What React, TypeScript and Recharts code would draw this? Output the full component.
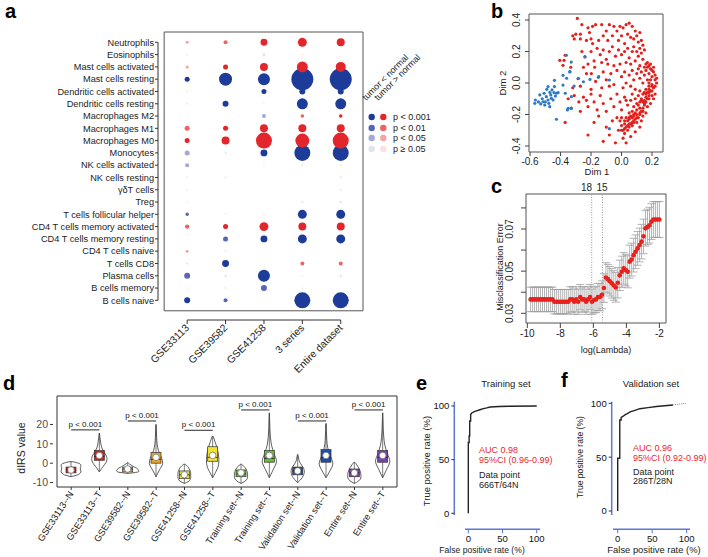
import React from "react";
import {
  Bar,
  BarChart,
  ErrorBar,
  Line,
  LineChart,
  ReferenceArea,
  ReferenceLine,
  Scatter,
  ScatterChart,
  XAxis,
  YAxis,
  ZAxis,
} from "recharts";

const FONT = '"Liberation Sans", Arial, sans-serif';

// ---------- a: immune cell bubbles ----------
const cellTypes = [
  "Neutrophils", "Eosinophils", "Mast cells activated", "Mast cells resting",
  "Dendritic cells activated", "Dendritic cells resting", "Macrophages M2",
  "Macrophages M1", "Macrophages M0", "Monocytes", "NK cells activated",
  "NK cells resting", "γδT cells", "Treg", "T cells follicular helper",
  "CD4 T cells memory activated", "CD4 T cells memory resting", "CD4 T cells naive",
  "T cells CD8", "Plasma cells", "B cells memory", "B cells naive",
];
const datasets = ["GSE33113", "GSE39582", "GSE41258", "3 series", "Entire dataset"];
// sign: + tumor > normal, - tumor < normal; 4 p<0.001, 3 p<0.01, 2 p<0.05, 1 p>=0.05
const pLevel = [
  [2, 3, 4, 4, 4], [1, 0, -1, 1, 0], [2, 4, 4, 4, 4], [-4, -4, -4, -4, -4],
  [1, 0, -4, -4, -4], [1, -4, 1, -4, -4], [0, 0, -2, 3, 4], [3, 4, 4, 4, 4],
  [4, 4, 4, 4, 4], [-2, -1, -4, -4, -4], [-2, 0, 1, 1, 1], [1, 1, 0, 0, -1],
  [1, 0, 0, 0, 1], [1, 0, 0, -1, -1], [-3, 1, 1, -4, -4], [3, 4, 4, 4, 4],
  [0, -3, -4, -4, -4], [2, 1, 0, 0, 0], [-1, -4, 0, 3, 3], [-3, -1, -4, -1, -1],
  [1, 1, -3, 1, 0], [-4, -3, 0, -4, -4],
];
const dotScore = [
  [2.3, 4, 12, 20, 16], [1, 0, 2.3, 0.6, 0], [2.3, 6.3, 16, 30, 25], [6.3, 42, 36, 121, 121],
  [1, 0, 6.3, 9, 9], [1, 9, 0.6, 30, 30], [0, 0, 4, 3.2, 3.2], [6.3, 6.3, 16, 16, 16],
  [6.3, 16, 64, 49, 64], [6.3, 1, 12, 64, 64], [4, 0, 0.6, 1, 1], [1, 1, 0, 0, 1],
  [0.6, 0, 0, 0, 1], [0.6, 0, 0, 1, 1.4], [3.2, 0.6, 1, 20, 20], [4.8, 6.3, 20, 16, 16],
  [0, 6.3, 12, 20, 20], [2.3, 1, 0, 0, 0], [1, 12, 0, 4, 4], [9, 1.4, 36, 0.6, 1.4],
  [0.6, 1, 9, 0.6, 0], [9, 4, 0, 64, 64],
];
const levelColors: Record<number, string> = {
  4: "#e3262b", 3: "#ec6466", 2: "#f4a3a4", 1: "#fbe1e1",
  [-1]: "#e1e3f2", [-2]: "#a2a8d9", [-3]: "#5866b8", [-4]: "#1d3c99",
};
const levelOrder = [-1, -2, -3, -4, 1, 2, 3, 4];
const legendRows = ["p < 0.001", "p < 0.01", "p < 0.05", "p ≥ 0.05"];

// ---------- b: MDS scatter ----------
const normalPoints: [number, number][] = [
  [-0.569, -0.129], [-0.565, -0.108], [-0.536, -0.076], [-0.53, -0.133], [-0.515, -0.119],
  [-0.504, -0.14], [-0.508, -0.065], [-0.493, -0.087], [-0.482, -0.108], [-0.477, -0.129],
  [-0.471, -0.15], [-0.482, -0.023], [-0.464, -0.076], [-0.46, -0.097], [-0.456, -0.044],
  [-0.449, -0.108], [-0.443, -0.061], [-0.44, -0.023], [-0.434, -0.083], [-0.427, -0.065],
  [-0.416, -0.061], [-0.427, -0.23], [-0.384, -0.013], [-0.369, -0.065], [-0.355, -0.171],
  [-0.35, -0.161], [-0.329, -0.161], [-0.329, -0.087], [-0.311, -0.019], [-0.08, -0.29],
  [-0.24, 0.167], [-0.338, 0.072], [-0.36, 0.03], [-0.283, 0.03], [-0.25, 0.008],
  [-0.207, 0.023], [-0.152, 0.036], [-0.08, 0.019], [-0.362, 0.176], [-0.33, 0.133],
  [-0.34, 0.07], [-0.384, 0.049], [-0.44, 0.017], [-0.52, -0.1], [-0.5, -0.12],
  [-0.47, -0.06], [-0.545, -0.12], [-0.49, -0.04],
];
const tumorPoints: [number, number][] = [
  [-0.29, 0.41], [-0.26, 0.37], [-0.32, 0.3], [-0.3, 0.31], [-0.27, 0.31], [-0.22, 0.35],
  [-0.21, 0.32], [-0.19, 0.36], [-0.17, 0.37], [-0.23, 0.27], [-0.2, 0.28], [-0.19, 0.25],
  [-0.27, 0.28], [-0.31, 0.28], [-0.13, 0.37], [-0.1, 0.33], [-0.08, 0.37], [-0.05, 0.36],
  [-0.03, 0.33], [-0.01, 0.36], [0.01, 0.35], [0.03, 0.37], [0.05, 0.38], [0.07, 0.36],
  [0.09, 0.33], [0.1, 0.3], [0.12, 0.32], [-0.12, 0.3], [-0.06, 0.3], [0.0, 0.3],
  [0.04, 0.31], [0.06, 0.29], [0.08, 0.28], [0.11, 0.26], [-0.15, 0.27], [-0.09, 0.27],
  [-0.02, 0.27], [0.02, 0.25], [0.13, 0.27], [0.14, 0.24],
  [-0.26, 0.2], [-0.24, 0.165], [-0.37, 0.176], [-0.405, 0.144], [-0.377, 0.144],
  [-0.384, 0.112], [-0.333, 0.1], [-0.25, 0.1], [-0.176, 0.1], [-0.2, 0.2], [-0.16, 0.22],
  [-0.14, 0.18], [-0.12, 0.21], [-0.1, 0.15], [-0.08, 0.2], [-0.06, 0.23], [-0.04, 0.17],
  [-0.02, 0.21], [0.0, 0.18], [0.02, 0.2], [0.04, 0.22], [0.05, 0.16], [0.07, 0.2],
  [0.08, 0.23], [0.1, 0.2], [0.11, 0.17], [0.12, 0.22], [0.13, 0.19], [0.14, 0.15],
  [0.15, 0.21], [0.09, 0.14], [0.06, 0.12], [0.03, 0.13], [-0.01, 0.12], [-0.05, 0.11],
  [-0.09, 0.12], [-0.13, 0.13], [-0.18, 0.14], [-0.22, 0.12], [0.16, 0.12], [0.17, 0.13],
  [0.18, 0.11], [0.12, 0.11], [0.15, 0.1],
  [-0.285, 0.027], [-0.23, 0.06], [-0.198, 0.06], [-0.15, 0.04], [-0.12, 0.07], [-0.1, 0.02],
  [-0.07, 0.06], [-0.05, -0.01], [-0.03, 0.08], [0.0, 0.04], [0.02, 0.07], [0.03, 0.0],
  [0.05, 0.05], [0.07, 0.08], [0.08, 0.02], [0.1, 0.06], [0.11, 0.09], [0.12, 0.03],
  [0.13, 0.07], [0.14, 0.0], [0.15, 0.05], [0.16, 0.08], [0.17, 0.02], [0.18, 0.06],
  [0.19, 0.09], [0.2, 0.04], [0.21, 0.07], [0.22, 0.02], [0.23, 0.0], [0.2, -0.01],
  [0.19, 0.02], [0.21, -0.03], [0.18, -0.02], [0.16, -0.04], [0.22, 0.05], [0.2, 0.08],
  [0.17, 0.1], [0.19, 0.12], [0.21, 0.1], [0.18, 0.0], [0.23, 0.03], [0.22, -0.02],
  [-0.32, -0.03], [-0.27, -0.02], [-0.2, -0.04], [-0.17, 0.01], [-0.13, -0.03], [-0.08, -0.02],
  [0.01, -0.03], [0.06, -0.02], [0.09, -0.04], [0.12, -0.05], [0.15, -0.06],
  [-0.35, -0.1], [-0.31, -0.08], [-0.28, -0.12], [-0.25, -0.09], [-0.22, -0.15], [-0.2, -0.07],
  [-0.18, -0.12], [-0.16, -0.17], [-0.14, -0.08], [-0.12, -0.13], [-0.1, -0.18], [-0.07, -0.1],
  [-0.05, -0.15], [-0.03, -0.07], [-0.01, -0.12], [0.0, -0.17], [0.02, -0.09], [0.04, -0.14],
  [0.05, -0.19], [0.06, -0.11], [0.07, -0.07], [0.08, -0.15], [0.09, -0.1], [0.1, -0.2],
  [0.1, -0.13], [0.11, -0.08], [0.12, -0.16], [0.13, -0.11], [0.14, -0.07], [0.14, -0.18],
  [0.15, -0.13], [0.16, -0.09], [0.17, -0.15], [0.18, -0.1], [0.18, -0.06], [0.19, -0.13],
  [0.2, -0.08], [0.2, -0.05], [0.21, -0.1], [0.22, -0.07], [0.16, -0.19], [0.12, -0.19],
  [0.03, -0.11], [-0.33, -0.16], [-0.27, -0.18], [-0.23, -0.11],
  [-0.37, -0.25], [-0.22, -0.33], [-0.18, -0.25], [-0.15, -0.21], [-0.12, -0.37], [-0.1, -0.28],
  [-0.08, -0.33], [-0.06, -0.24], [-0.04, -0.38], [-0.02, -0.3], [0.0, -0.22], [0.01, -0.35],
  [0.02, -0.26], [0.03, -0.38], [0.04, -0.3], [0.05, -0.23], [0.06, -0.34], [0.07, -0.27],
  [0.08, -0.21], [0.09, -0.31], [0.1, -0.25], [0.11, -0.22], [0.12, -0.28], [0.13, -0.24],
  [0.14, -0.21], [0.0, -0.27], [-0.01, -0.24], [0.02, -0.32], [0.05, -0.28], [0.07, -0.22],
  [-0.03, -0.22], [0.08, -0.25],
  [0.2, -0.02], [0.19, -0.05], [0.18, -0.08], [0.17, -0.1], [0.16, -0.12], [0.15, -0.14],
  [0.14, -0.16], [0.13, -0.18], [0.12, -0.2], [0.1, -0.22], [0.09, -0.23], [0.08, -0.24],
  [0.07, -0.25], [0.06, -0.26], [0.05, -0.26], [0.04, -0.27], [0.03, -0.28], [0.02, -0.29],
  [0.01, -0.3], [0.0, -0.3], [0.11, -0.14], [0.12, -0.12], [0.13, -0.1], [0.14, -0.12],
  [0.15, -0.11], [0.16, -0.07], [0.17, -0.06], [0.18, -0.04], [0.1, -0.17], [0.09, -0.19],
  [0.08, -0.2], [0.07, -0.18], [0.06, -0.21], [0.05, -0.22], [0.04, -0.24], [0.03, -0.22],
  [0.02, -0.24],
];

// ---------- c: cross-validation curve ----------
const cvLogLambda = [
  -9.8, -9.68, -9.56, -9.44, -9.32, -9.2, -9.08, -8.96, -8.84, -8.72, -8.6, -8.48,
  -8.36, -8.24, -8.12, -8.0, -7.88, -7.76, -7.64, -7.52,
  -7.4, -7.28, -7.16, -7.04, -6.92, -6.8, -6.68, -6.56, -6.44, -6.32,
  -6.2, -6.08, -5.96, -5.84, -5.72, -5.6, -5.48, -5.36, -5.24, -5.12,
  -5.0, -4.88, -4.76, -4.64, -4.52, -4.4, -4.28, -4.16, -4.04, -3.92,
  -3.8, -3.68, -3.56, -3.44, -3.32, -3.2, -3.08, -2.96, -2.84, -2.72,
  -2.6, -2.48, -2.36, -2.24, -2.12, -2.0,
];
const cvError = [
  0.0366, 0.0366, 0.0366, 0.0366, 0.0366, 0.0366, 0.0366, 0.0366, 0.0366, 0.0366, 0.0366, 0.0366,
  0.0355, 0.0355, 0.0355, 0.0355, 0.0355, 0.0355, 0.0355, 0.0355,
  0.0366, 0.0366, 0.0355, 0.0366, 0.0355, 0.0377, 0.0366, 0.0366, 0.0355, 0.0366,
  0.0377, 0.0355, 0.0363, 0.0366, 0.0377, 0.0377, 0.0388, 0.042, 0.047, 0.0462,
  0.0452, 0.0442, 0.0432, 0.0423, 0.0445, 0.048, 0.0497, 0.0513, 0.0505, 0.0497,
  0.0545, 0.0555, 0.0576, 0.0592, 0.0608, 0.0624, 0.064, 0.0665, 0.0703, 0.071,
  0.0718, 0.0735, 0.0745, 0.0745, 0.0745, 0.0745,
];
const cvSE = [
  0.0058, 0.0058, 0.0058, 0.0058, 0.0058, 0.0058, 0.0058, 0.0058, 0.0058, 0.0058, 0.0058, 0.0058,
  0.0058, 0.0058, 0.0058, 0.0058, 0.0058, 0.0058, 0.0058, 0.0058,
  0.006, 0.006, 0.006, 0.006, 0.006, 0.006, 0.006, 0.006, 0.006, 0.006,
  0.006, 0.006, 0.0062, 0.0062, 0.0064, 0.0065, 0.0066, 0.0068, 0.007, 0.007,
  0.007, 0.007, 0.007, 0.007, 0.0072, 0.0072, 0.0074, 0.0075, 0.0075, 0.0076,
  0.0078, 0.0078, 0.008, 0.008, 0.008, 0.008, 0.0082, 0.0082, 0.0084, 0.0084,
  0.0085, 0.0085, 0.0085, 0.0085, 0.0085, 0.0085,
];
const lambdaMarks = [-6.1, -5.45];
const lambdaMarkLabels = ["18", "15"];

// ---------- d: dIRS violins ----------
const groupNames = [
  "GSE33113--N", "GSE33113--T", "GSE39582--N", "GSE39582--T", "GSE41258--N", "GSE41258--T",
  "Training set--N", "Training set--T", "Validation set--N", "Validation set--T", "Entire set--N", "Entire set--T",
];
const groupColors = [
  "#e3191c", "#e3191c", "#f2a31c", "#f2a31c", "#f3e42c", "#f3e42c",
  "#68bd2f", "#68bd2f", "#1f4ea3", "#1f4ea3", "#7b3fb0", "#7b3fb0",
];
const violinLow = [-7, -4.5, -5.3, -7, -10.5, -7.5, -10.5, -7.5, -10, -7.5, -10.5, -7.5];
const violinHigh = [0.8, 15.5, 0.3, 20, -0.5, 14, -0.5, 26, 4.5, 20.5, 0.5, 26];
const boxQ1 = [-5, 1.5, -4.5, 0, -8, 1, -7, 0.5, -6, 0.5, -7, 0.5];
const boxMedian = [-3.5, 3.5, -3, 2, -6, 3, -5.5, 2.5, -4, 3, -5, 3];
const boxQ3 = [-2, 6.5, -2, 5.5, -4, 8.5, -3.5, 6.5, -2, 7, -3, 6.5];
const groupMean = [-3.5, 4, -3, 3, -6, 4, -5, 4, -4, 4, -5, 4];
const violinDensity = [
  [0, 0.6, 0.85, 0.9, 0.85, 0.85, 0.9, 0.75, 0],
  [0, 0.3, 0.62, 0.68, 0.45, 0.22, 0.12, 0.06, 0],
  [0, 0.9, 1, 0.95, 0.8, 0.55, 0.35, 0.15, 0],
  [0, 0.3, 0.6, 0.48, 0.22, 0.1, 0.06, 0.03, 0],
  [0, 0.42, 0.56, 0.58, 0.58, 0.55, 0.45, 0.3, 0],
  [0, 0.25, 0.48, 0.56, 0.55, 0.48, 0.36, 0.2, 0],
  [0, 0.38, 0.56, 0.6, 0.6, 0.55, 0.45, 0.28, 0],
  [0, 0.35, 0.65, 0.42, 0.2, 0.1, 0.05, 0.03, 0],
  [0, 0.32, 0.52, 0.6, 0.55, 0.35, 0.16, 0.08, 0],
  [0, 0.35, 0.62, 0.45, 0.22, 0.1, 0.06, 0.03, 0],
  [0, 0.4, 0.58, 0.6, 0.58, 0.5, 0.38, 0.22, 0],
  [0, 0.35, 0.65, 0.42, 0.2, 0.1, 0.05, 0.03, 0],
];
const sigPairs: [string, string][] = [
  ["GSE33113--N", "GSE33113--T"], ["GSE39582--N", "GSE39582--T"], ["GSE41258--N", "GSE41258--T"],
  ["Training set--N", "Training set--T"], ["Validation set--N", "Validation set--T"], ["Entire set--N", "Entire set--T"],
];
const sigHeight = [17.2, 21.8, 17, 27.5, 21.8, 27.5];

// ---------- e, f: ROC ----------
const trainFpr = [0, 0, 1.2, 1.2, 2, 2, 3.4, 3.4, 5, 8, 12, 17, 22, 27, 32, 45, 60, 100];
const trainTpr = [0, 66, 66, 72, 72, 86, 86, 92, 93.5, 94.5, 95.5, 96.5, 97.5, 98.2, 99, 99.5, 99.8, 100];
const validFpr = [0, 0, 3, 3, 5, 5, 8, 11, 14, 18, 25, 32, 44, 56, 68, 80];
const validTpr = [0, 49, 49, 84.5, 84.5, 87, 88, 89.5, 90.5, 92, 93.5, 95, 96, 97, 97.8, 98.5];
const validTailFpr = [80, 90, 100];
const validTailTpr = [98.5, 99.3, 100];

// ---------- derived tables ----------
const bubbles = pLevel.flatMap((row, r) =>
  row.map((lvl, c) => ({ row: r, col: c, lvl, z: dotScore[r][c] })).filter((b) => b.z > 0),
);
const bubbleGroups = levelOrder.map((lvl) => ({ lvl, pts: bubbles.filter((b) => b.lvl === lvl) }));
const tumorData = tumorPoints.map(([x, y]) => ({ x, y }));
const normalData = normalPoints.map(([x, y]) => ({ x, y }));
const cvData = cvLogLambda.map((x, i) => ({ x, y: cvError[i], se: cvSE[i] }));
const violinData = groupNames.map((name, i) => ({
  name,
  span: [violinLow[i], violinHigh[i]],
  q1: boxQ1[i],
  med: boxMedian[i],
  q3: boxQ3[i],
  mean: groupMean[i],
  dens: violinDensity[i],
  color: groupColors[i],
}));
const trainCurve = trainFpr.map((fpr, i) => ({ fpr, tpr: trainTpr[i] }));
const validCurve = validFpr.map((fpr, i) => ({ fpr, tpr: validTpr[i] }));
const validTail = validTailFpr.map((fpr, i) => ({ fpr, tpr: validTailTpr[i] }));

const AngledTick = (props: any) => {
  const { x, y, payload, angle, fontSize, fill, labels } = props;
  const text = labels ? labels[payload.value] : payload.value;
  return (
    <g transform={`translate(${x},${y})`}>
      <text
        x={0}
        y={0}
        dy={fontSize * 0.35}
        textAnchor="end"
        transform={`rotate(${angle})`}
        fontSize={fontSize}
        fill={fill}
      >
        {text}
      </text>
    </g>
  );
};

const RowTick = (props: any) => {
  const { x, y, payload } = props;
  return (
    <text x={x} y={y} dy={3.2} textAnchor="end" fontSize={9.2} fill="#222">
      {cellTypes[payload.value]}
    </text>
  );
};

const VTick = (props: any) => {
  const { x, y, payload, fontSize, show, digits } = props;
  const visible = !show || show.some((s: number) => Math.abs(s - payload.value) < 1e-6);
  return (
    <g transform={`translate(${x},${y}) rotate(-90)`}>
      <text x={0} y={0} textAnchor="middle" fontSize={fontSize} fill="#222">
        {visible ? Number(payload.value).toFixed(digits) : ""}
      </text>
    </g>
  );
};

const dot = (color: string, r: number) => (p: any) => <circle cx={p.cx} cy={p.cy} r={r} fill={color} />;

function smoothPath(pts: [number, number][]) {
  let d = `M${pts[0][0]},${pts[0][1]}`;
  for (let i = 0; i < pts.length - 1; i++) {
    const p0 = pts[i - 1] || pts[i];
    const p1 = pts[i];
    const p2 = pts[i + 1];
    const p3 = pts[i + 2] || p2;
    const c1x = p1[0] + (p2[0] - p0[0]) / 6;
    const c1y = p1[1] + (p2[1] - p0[1]) / 6;
    const c2x = p2[0] - (p3[0] - p1[0]) / 6;
    const c2y = p2[1] - (p3[1] - p1[1]) / 6;
    d += ` C${c1x},${c1y} ${c2x},${c2y} ${p2[0]},${p2[1]}`;
  }
  return d + " Z";
}

const ViolinShape = (props: any) => {
  const { x, y, width, height, payload } = props;
  const cx = x + width / 2;
  const top = Math.min(y, y + height);
  const h = Math.abs(height);
  const [lo, hi] = payload.span;
  const py = (v: number) => top + ((hi - v) / (hi - lo)) * h;
  const n = payload.dens.length;
  const right: [number, number][] = payload.dens.map((d: number, i: number) => [
    cx + d * 11,
    py(lo + ((hi - lo) * i) / (n - 1)),
  ]);
  const left: [number, number][] = right.map(([px, yy]) => [2 * cx - px, yy] as [number, number]).reverse();
  const outline = smoothPath([...right, ...left.slice(1, -1)]);
  return (
    <g>
      <path d={outline} fill="#fff" stroke="#333" strokeWidth={0.8} />
      <line x1={cx} x2={cx} y1={py(lo)} y2={py(hi)} stroke="#444" strokeWidth={0.7} />
      <rect x={cx - 5} y={py(payload.q3)} width={10} height={py(payload.q1) - py(payload.q3)} fill={payload.color} stroke="#333" strokeWidth={0.7} />
      <line x1={cx - 5} x2={cx + 5} y1={py(payload.med)} y2={py(payload.med)} stroke="#222" strokeWidth={0.9} />
      <circle cx={cx} cy={py(payload.mean)} r={3.3} fill="#fff" stroke="#666" strokeWidth={0.7} />
    </g>
  );
};

function PanelA() {
  return (
    <ScatterChart width={370} height={380} margin={{ top: 32, right: 7, bottom: 0, left: 8 }}>
      <XAxis
        type="number"
        dataKey="col"
        domain={[-0.76, 4.58]}
        allowDataOverflow
        ticks={datasets.map((_, i) => i)}
        interval={0}
        height={60}
        axisLine={false}
        tickSize={4}
        tickLine={{ stroke: "#333" }}
        tick={<AngledTick angle={-45} fontSize={10.3} fill="#222" labels={datasets} />}
      />
      <YAxis
        type="number"
        dataKey="row"
        reversed
        domain={[-0.84, 22.6]}
        allowDataOverflow
        ticks={cellTypes.map((_, i) => i)}
        interval={0}
        width={150}
        axisLine={false}
        tickSize={3}
        tickMargin={1}
        tickLine={{ stroke: "#333" }}
        tick={<RowTick />}
      />
      <ZAxis type="number" dataKey="z" domain={[0, 121]} range={[0, 380]} />
      <ReferenceArea x1={-0.6} x2={4.58} y1={-0.84} y2={21.85} fill="none" stroke="#555" ifOverflow="visible" />
      <ReferenceLine segment={[{ x: -0.76, y: 0 }, { x: -0.76, y: 21 }]} stroke="#333" ifOverflow="visible" />
      <ReferenceLine segment={[{ x: 0, y: 22.6 }, { x: 4, y: 22.6 }]} stroke="#333" ifOverflow="visible" />
      {bubbleGroups.map((g) => (
        <Scatter key={g.lvl} data={g.pts} fill={levelColors[g.lvl]} isAnimationActive={false} />
      ))}
    </ScatterChart>
  );
}

function PanelB() {
  return (
    <ScatterChart width={238} height={180} margin={{ top: 14, right: 45, bottom: 0, left: 0 }}>
      <XAxis
        type="number"
        dataKey="x"
        domain={[-0.607, 0.272]}
        allowDataOverflow
        ticks={[-0.6, -0.4, -0.2, 0, 0.2]}
        interval={0}
        tickFormatter={(v: number) => v.toFixed(1)}
        height={28}
        axisLine={false}
        tickSize={4}
        tickLine={{ stroke: "#444" }}
        tick={{ fontSize: 10, fill: "#222" }}
      />
      <YAxis
        type="number"
        dataKey="y"
        domain={[-0.438, 0.438]}
        allowDataOverflow
        ticks={[-0.4, -0.2, 0, 0.2, 0.4]}
        interval={0}
        width={59}
        axisLine={false}
        tickSize={4}
        tickMargin={5}
        tickLine={{ stroke: "#444" }}
        tick={<VTick fontSize={10} digits={1} />}
      />
      <ReferenceArea x1={-0.607} x2={0.272} y1={-0.438} y2={0.438} fill="none" stroke="#555" ifOverflow="visible" />
      <Scatter data={tumorData} shape={dot("#e3201b", 1.6)} isAnimationActive={false} />
      <Scatter data={normalData} shape={dot("#2c7bc6", 1.6)} isAnimationActive={false} />
    </ScatterChart>
  );
}

function PanelC() {
  return (
    <ScatterChart width={238} height={178} margin={{ top: 14, right: 42, bottom: 0, left: 0 }}>
      <XAxis
        type="number"
        dataKey="x"
        domain={[-10.08, -1.6]}
        allowDataOverflow
        ticks={[-10, -8, -6, -4, -2]}
        interval={0}
        height={35}
        axisLine={false}
        tickSize={5}
        tickLine={{ stroke: "#444" }}
        tick={{ fontSize: 10, fill: "#222" }}
      />
      <YAxis
        type="number"
        dataKey="y"
        domain={[0.0254, 0.0866]}
        allowDataOverflow
        ticks={[0.03, 0.04, 0.05, 0.06, 0.07, 0.08]}
        interval={0}
        width={56}
        axisLine={false}
        tickSize={5}
        tickMargin={8}
        tickLine={{ stroke: "#444" }}
        tick={<VTick fontSize={10} digits={2} show={[0.03, 0.05, 0.07]} />}
      />
      <ReferenceArea x1={-10.08} x2={-1.6} y1={0.0254} y2={0.0866} fill="none" stroke="#555" ifOverflow="visible" />
      {lambdaMarks.map((m) => (
        <ReferenceLine key={m} x={m} stroke="#999" strokeDasharray="1 1.5" />
      ))}
      <Scatter data={cvData} shape={dot("#e8211d", 2.3)} isAnimationActive={false}>
        <ErrorBar dataKey="se" direction="y" width={4} stroke="#a0a0a0" strokeWidth={0.8} />
      </Scatter>
    </ScatterChart>
  );
}

function PanelD() {
  return (
    <BarChart width={420} height={172} data={violinData} margin={{ top: 11, right: 20, bottom: 0, left: 0 }}>
      <XAxis
        dataKey="name"
        interval={0}
        padding={{ left: 4, right: 3 }}
        height={70}
        axisLine={false}
        tickSize={3}
        tickLine={{ stroke: "#333" }}
        tick={<AngledTick angle={-57} fontSize={9.3} fill="#222" />}
      />
      <YAxis
        domain={[-12.3, 34.7]}
        allowDataOverflow
        ticks={[-10, 0, 10, 20]}
        interval={0}
        width={53}
        axisLine={false}
        tickSize={3}
        tickLine={{ stroke: "#333" }}
        tick={{ fontSize: 10.5, fill: "#4d4d4d" }}
      />
      <ReferenceArea y1={-12.3} y2={34.7} fill="none" stroke="#333" ifOverflow="visible" />
      <Bar dataKey="span" barSize={24} shape={<ViolinShape />} isAnimationActive={false} />
      {sigPairs.map(([from, to], i) => (
        <ReferenceLine
          key={from}
          segment={[{ x: from, y: sigHeight[i] }, { x: to, y: sigHeight[i] }]}
          stroke="#111"
          strokeWidth={0.9}
          ifOverflow="visible"
          label={{ value: "p < 0.001", position: "top", fontSize: 8, fill: "#111", offset: 3 }}
        />
      ))}
    </BarChart>
  );
}

const ROC_BLUE = "#5b78d3";

function RocPanel(props: {
  curve: { fpr: number; tpr: number }[];
  tail?: { fpr: number; tpr: number }[];
  xDomain: [number, number];
  yDomain: [number, number];
  yWidth: number;
  xLineStart: number;
  yLineStart: number;
}) {
  const { curve, tail, xDomain, yDomain, yWidth, xLineStart, yLineStart } = props;
  return (
    <LineChart width={130} height={187} margin={{ top: 31.7, right: 10, bottom: 0, left: 0 }}>
      <XAxis
        type="number"
        dataKey="fpr"
        domain={xDomain}
        allowDataOverflow
        ticks={[0, 50, 100]}
        interval={0}
        height={27.7}
        axisLine={false}
        tickSize={4}
        tickLine={{ stroke: ROC_BLUE }}
        tick={{ fontSize: 9.5, fill: "#111" }}
      />
      <YAxis
        type="number"
        dataKey="tpr"
        domain={yDomain}
        allowDataOverflow
        ticks={[0, 50, 100]}
        interval={0}
        width={yWidth}
        axisLine={false}
        tickSize={3}
        tickLine={{ stroke: "#333" }}
        tick={{ fontSize: 9.5, fill: "#111" }}
      />
      <ReferenceLine
        segment={[{ x: xLineStart, y: yDomain[0] }, { x: xDomain[1], y: yDomain[0] }]}
        stroke={ROC_BLUE}
        strokeWidth={1.5}
        ifOverflow="visible"
      />
      <ReferenceLine
        segment={[{ x: xDomain[0], y: yLineStart }, { x: xDomain[0], y: yDomain[1] }]}
        stroke={ROC_BLUE}
        strokeWidth={1.5}
        ifOverflow="visible"
      />
      <Line data={curve} dataKey="tpr" type="linear" stroke="#222" strokeWidth={1.4} dot={false} isAnimationActive={false} />
      {tail && (
        <Line data={tail} dataKey="tpr" type="linear" stroke="#888" strokeWidth={1} strokeDasharray="1 1" dot={false} isAnimationActive={false} />
      )}
    </LineChart>
  );
}

function Overlay() {
  const red = "#e8262a";
  const legendY = [117, 128, 138, 149];
  return (
    <svg width={708} height={557} style={{ position: "absolute", left: 0, top: 0, pointerEvents: "none" }} fontFamily={FONT}>
      <g fontWeight="bold" fontSize={20} fill="#000">
        <text x={5} y={18}>a</text>
        <text x={491} y={18}>b</text>
        <text x={491} y={193}>c</text>
        <text x={3} y={390}>d</text>
        <text x={416} y={390}>e</text>
        <text x={561} y={387}>f</text>
      </g>
      {/* a legend */}
      <text x={366} y={101} fontSize={9} fill="#222" transform="rotate(-45 366 101)">tumor &lt; normal</text>
      <text x={378} y={101} fontSize={9} fill="#222" transform="rotate(-45 378 101)">tumor &gt; normal</text>
      {legendRows.map((label, i) => (
        <g key={label}>
          <circle cx={371.7} cy={legendY[i]} r={3.2} fill={levelColors[-(4 - i)]} />
          <circle cx={383.3} cy={legendY[i]} r={3.2} fill={levelColors[4 - i]} />
          <text x={393} y={legendY[i] + 3.2} fontSize={9} fill="#222">{label}</text>
        </g>
      ))}
      {/* b, c axis titles */}
      <text x={597} y={175} fontSize={9.5} textAnchor="middle" fill="#222">Dim 1</text>
      <text transform="translate(506,83) rotate(-90)" fontSize={9.5} textAnchor="middle" fill="#222">Dim 2</text>
      <text transform="translate(503,267) rotate(-90)" fontSize={9} textAnchor="middle" fill="#222">Misclassification Error</text>
      <text x={606} y={353} fontSize={9} textAnchor="middle" fill="#222">log(Lambda)</text>
      <text x={586.5} y={191} fontSize={10} textAnchor="middle" fill="#222">{lambdaMarkLabels[0]}</text>
      <text x={602} y={191} fontSize={10} textAnchor="middle" fill="#222">{lambdaMarkLabels[1]}</text>
      {/* d */}
      <text transform="translate(25,448) rotate(-90)" fontSize={10.5} textAnchor="middle" fill="#222">dIRS value</text>
      {/* e, f */}
      <text x={506} y={387} fontSize={9.5} textAnchor="middle" fill="#222">Training set</text>
      <text x={651} y={387} fontSize={9.5} textAnchor="middle" fill="#222">Validation set</text>
      <text x={482} y={553} fontSize={8.6} textAnchor="middle" fill="#222">False positive rate (%)</text>
      <text x={654} y={553} fontSize={9.4} textAnchor="middle" fill="#222">False positive rate (%)</text>
      <text transform="translate(430,461) rotate(-90)" fontSize={9.5} textAnchor="middle" fill="#222">True positive rate (%)</text>
      <text transform="translate(583,457) rotate(-90)" fontSize={8.6} textAnchor="middle" fill="#222">True positive rate (%)</text>
      <g fontSize={9}>
        <text x={479} y={452.5} fill={red}>AUC 0.98</text>
        <text x={479} y={462.5} fill={red}>95%CI (0.96-0.99)</text>
        <text x={479} y={477.5} fill="#222">Data point</text>
        <text x={479} y={487.5} fill="#222">666T/64N</text>
        <text x={633} y={451} fill={red}>AUC 0.96</text>
        <text x={633} y={461} fill={red}>95%CI (0.92-0.99)</text>
        <text x={633} y={474.5} fill="#222">Data point</text>
        <text x={633} y={484} fill="#222">286T/28N</text>
      </g>
    </svg>
  );
}

export default function App() {
  return (
    <div
      style={{
        position: "absolute",
        left: 0,
        top: 0,
        width: 708,
        height: 557,
        background: "#fff",
        fontFamily: FONT,
        overflow: "hidden",
      }}
    >
      <div style={{ position: "absolute", left: 0, top: 0 }}>
        <PanelA />
      </div>
      <div style={{ position: "absolute", left: 470, top: 0 }}>
        <PanelB />
      </div>
      <div style={{ position: "absolute", left: 470, top: 180 }}>
        <PanelC />
      </div>
      <div style={{ position: "absolute", left: 0, top: 385 }}>
        <PanelD />
      </div>
      <div style={{ position: "absolute", left: 420, top: 370 }}>
        <RocPanel curve={trainCurve} xDomain={[-20.5, 104.8]} yDomain={[-14.9, 104]} yWidth={34.3} xLineStart={-4.9} yLineStart={-1.6} />
      </div>
      <div style={{ position: "absolute", left: 570, top: 370 }}>
        <RocPanel curve={validCurve} tail={validTail} xDomain={[-8.7, 104.8]} yDomain={[-17, 101.5]} yWidth={41.7} xLineStart={-6.8} yLineStart={-3.7} />
      </div>
      <Overlay />
    </div>
  );
}
